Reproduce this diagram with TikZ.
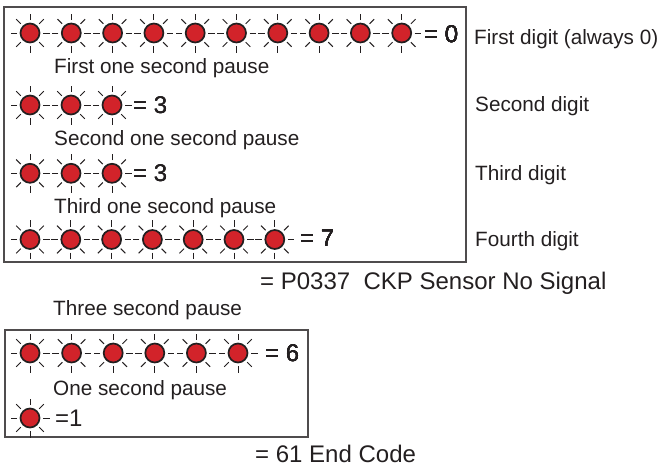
\documentclass[tikz,border=0pt]{standalone}
\usepackage{fontspec}
\setmainfont{Liberation Sans}
\usetikzlibrary{positioning}
\definecolor{ledred}{HTML}{D2232A}
\definecolor{ink}{HTML}{231F20}
\tikzstyle{led} = [circle, draw=ink, fill=ledred, line width=1.7pt, minimum size=19pt, inner sep=0pt]
\tikzstyle{ray} = [draw=ink, line width=1pt]
\tikzstyle{note} = [anchor=base west, inner sep=0pt, text=ink, font=\fontsize{20.7}{24}\selectfont]
\tikzstyle{code} = [anchor=base west, inner sep=0pt, text=ink, font=\fontsize{24}{28}\selectfont]
\tikzstyle{frame} = [draw=ink!80, line width=1.2pt]

% one blinking lamp: bulb plus eight rays
\newcommand{\blink}[3]{%
  \node[led] (#1) at (#2,#3) {};
  \foreach \a in {0,45,...,315}
    \draw[ray] (#1.center) ++(\a:13) -- ++(\a:6.5);
}

\begin{document}
\begin{tikzpicture}[x=1pt, y=-1pt]
      \useasboundingbox (0,0) rectangle (663,471);

      % code P0337
      \draw [frame] (4,7) rectangle (466,262);
      \foreach \i in {0,...,9} \blink{first\i}{30+41.3*\i}{33}
      \node (eqzero) [code] at (424,42.7) {= 0};
      \node (pausea) [note] at (54,73.3) {First one second pause};
      \foreach \i in {0,...,2} \blink{second\i}{30+41*\i}{105}
      \node (eqthreea) [code] at (133,113.3) {= 3};
      \node (pauseb) [note] at (54,145) {Second one second pause};
      \foreach \i in {0,...,2} \blink{third\i}{30+41*\i}{173.3}
      \node (eqthreeb) [code] at (133,181.7) {= 3};
      \node (pausec) [note] at (54,213.3) {Third one second pause};
      \foreach \i in {0,...,6} \blink{fourth\i}{30+40.8*\i}{239.5}
      \node (eqseven) [code] at (300,246.5) {= 7};

      \node (digita) [note] at (474,44.3) {First digit (always 0)};
      \node (digitb) [note] at (475,111) {Second digit};
      \node (digitc) [note] at (475,180) {Third digit};
      \node (digitd) [note] at (475,246.7) {Fourth digit};

      \node (result) [code] at (260,289.3) {= P0337~~CKP Sensor No Signal};
      \node (longpause) [note] at (53,315) {Three second pause};

      % end code 61
      \draw [frame] (5,330) rectangle (308,437);
      \foreach \i in {0,...,5} \blink{endsix\i}{30+41.6*\i}{353}
      \node (eqsix) [code] at (265,361.7) {= 6};
      \node (paused) [note] at (53,395) {One second pause};
      \blink{endone}{30}{418}
      \node (eqone) [code] at (55,426) {=1};

      \node (endcode) [code] at (255,462.3) {= 61 End Code};
    \end{tikzpicture}
\end{document}
